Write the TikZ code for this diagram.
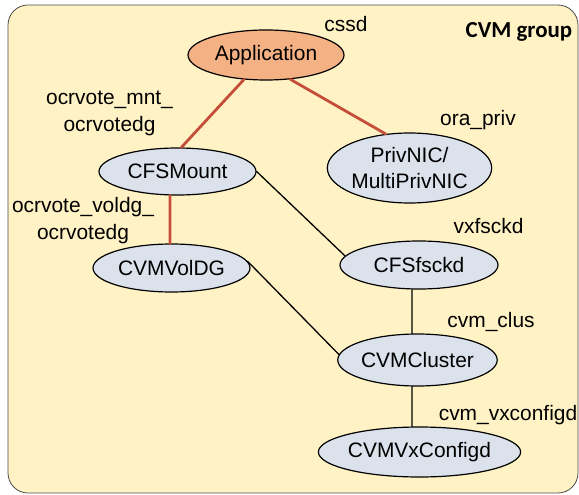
\documentclass[tikz,border=0pt]{standalone}
\usepackage{fontspec}
\setmainfont{Liberation Sans}
\newfontfamily\grpfont{Carlito}
\usepackage{xcolor}
\definecolor{mycream}{RGB}{255,242,196}
\definecolor{myorange}{RGB}{244,177,131}
\definecolor{mygray}{RGB}{219,226,235}
\definecolor{myred}{RGB}{196,78,58}
\usetikzlibrary{shapes.geometric}

\begin{document}
\begin{tikzpicture}[x=1bp,y=-1bp,line cap=round]
	\tikzstyle{res}=[draw,ellipse,line width=1.2pt,inner sep=0pt,fill=mygray,align=center,font=\fontsize{21}{27}\selectfont];
	\tikzstyle{lbl}=[inner sep=0pt,align=center,font=\fontsize{21}{27}\selectfont];
	\tikzstyle{dep}=[myred,line width=2.8pt];
	\tikzstyle{link}=[black,line width=1.3pt];
	\useasboundingbox (0,0) rectangle (579,495);
	\draw[fill=mycream,draw=black!70,line width=0.8pt,rounded corners=20bp] (8,5) rectangle (578,493);
	% \node[lbl] at (0,0) {};
	\node[font=\grpfont\bfseries\fontsize{23}{27}\selectfont,inner sep=0pt] (grp) at (519,32) {CVM group};
	\node[res,fill=myorange,minimum width=156bp,minimum height=50bp] (app) at (266,55) {Application};
	\node[res,minimum width=157bp,minimum height=47bp] (mnt) at (177.5,171.5) {CFSMount};
	\node[res,minimum width=155bp,minimum height=70bp] (nic) at (409.5,168) {PrivNIC/\\MultiPrivNIC};
	\node[res,minimum width=157bp,minimum height=48bp] (vol) at (171.5,268) {CVMVolDG};
	\node[res,minimum width=158bp,minimum height=48bp] (fsck) at (419,265) {CFSfsckd};
	\node[res,minimum width=157bp,minimum height=52bp] (clus) at (417.5,360) {CVMCluster};
	\node[res,minimum width=195bp,minimum height=50bp] (vxc) at (419.5,452) {CVMVxConfigd};
	\node[lbl] (cssd) at (346,24) {cssd};
	\node[lbl] (mntname) at (109.5,113.5) {ocrvote\_mnt\_\\ocrvotedg};
	\node[lbl] (orapriv) at (478,120) {ora\_priv};
	\node[lbl] (volname) at (83,220.5) {ocrvote\_voldg\_\\ocrvotedg};
	\node[lbl] (vxfsckd) at (488.5,226) {vxfsckd};
	\node[lbl] (cvmclus) at (491,322) {cvm\_clus};
	\node[lbl] (cvmvxc) at (508,415) {cvm\_vxconfigd};
	\draw[dep] (app.228) to (mnt.81);
	\draw[dep] (app.315) to (nic.125);
	\draw[dep] ([xshift=-7.5bp]mnt.south) to ([xshift=-1.5bp]vol.north);
	\draw[link] (mnt.east) to (fsck.173);
	\draw[link] (vol.5) to (clus.176);
	\draw[link] ([xshift=-7bp]fsck.south) to ([xshift=-5.5bp]clus.north);
	\draw[link] ([xshift=-5.5bp]clus.south) to ([xshift=-7.5bp]vxc.north);
\end{tikzpicture}
\end{document}
